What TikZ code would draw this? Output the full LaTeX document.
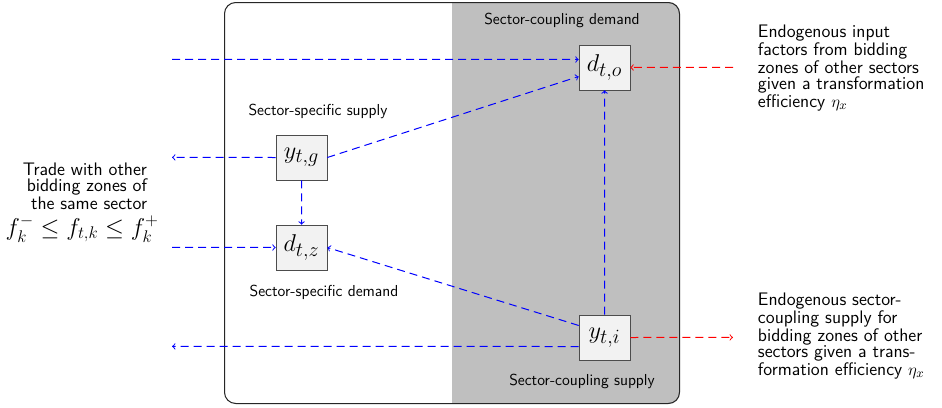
\documentclass[tikz,border=0pt]{standalone}
\usepackage{amsmath}
\begin{document}
\begin{tikzpicture}[
        x=0.025cm, y=-0.025cm,
        every node/.style={font=\sffamily\fontsize{11.3}{13}\selectfont},
        var/.style={draw=black!70, fill=gray!10, minimum width=1.275cm, minimum height=1.125cm, inner sep=1pt, font=\fontsize{19}{22}\selectfont},
        flow/.style={blue, line width=0.025cm, dash pattern=on 0.2cm off 0.125cm, ->},
        xflow/.style={red, line width=0.025cm, dash pattern=on 0.2cm off 0.125cm, ->},
        note/.style={font=\sffamily\fontsize{12.9}{11.4}\selectfont}
    ]
    \fill[white] (0,0) rectangle (942,408);
    \useasboundingbox (0,0) rectangle (942,408);

    % sector box, coupling half shaded
    \begin{scope}
        \clip[rounded corners=8] (224,2) rectangle (680,404);
        \fill[lightgray] (452,2) rectangle (680,404);
    \end{scope}
    \draw[black!85, line width=0.025cm, rounded corners=8] (224.5,2.5) rectangle (679.5,403.5);

    \node[var] (yg) at (301.5,157.5) {$y_{t,g}$};
    \node[var] (dz) at (301.5,247.5) {$d_{t,z}$};
    \node[var] (do) at (604.5,67.5) {$d_{t,o}$};
    \node[var] (yi) at (604.5,337.5) {$y_{t,i}$};

    \node (cdem) at (562,20) {Sector-coupling demand};
    \node (ssup) at (318,111) {Sector-specific supply};
    \node (sdem) at (324,292) {Sector-specific demand};
    \node (csup) at (582,381) {Sector-coupling supply};

    \node[note, align=right, anchor=east] (trade) at (152,186)
        {Trade with other\\bidding zones of\\the same sector};
    \node[anchor=east, font=\fontsize{16.5}{18}\selectfont, inner sep=0pt] (bound) at (159,229)
        {$f_k^- \leq f_{t,k} \leq f_k^+$};
    \node[note, align=left, anchor=west] (ein) at (753,68)
        {Endogenous input\\factors from bidding\\zones of other sectors\\given a transformation\\efficiency $\eta_x$};
    \node[note, align=left, anchor=west] (eout) at (753,336)
        {Endogenous sector-\\coupling supply for\\bidding zones of other\\sectors given a trans-\\formation efficiency $\eta_x$};

    % anchors on the coupling boxes
    \coordinate (doa) at ([yshift=0.2cm]do.west);
    \coordinate (dob) at ([yshift=-0.225cm]do.west);
    \coordinate (yia) at ([yshift=0.3cm]yi.west);
    \coordinate (yib) at ([yshift=-0.225cm]yi.west);
    \coordinate (dzn) at ([xshift=0.002cm]dz.north);
    \coordinate (dos) at ([xshift=0.002cm]do.south);

    % free ends (a hair off level)
    \coordinate (wl) at (172,0);
    \coordinate (er) at (733,0);
    \coordinate (t1) at ([yshift=0.002cm]doa -| wl);
    \coordinate (t2) at ([yshift=0.002cm]yg.west -| wl);
    \coordinate (t3) at ([yshift=0.002cm]dz.west -| wl);
    \coordinate (t4) at ([yshift=0.002cm]yib -| wl);
    \coordinate (r1) at ([yshift=0.002cm]do.east -| er);
    \coordinate (r2) at ([yshift=0.002cm]yi.east -| er);

    % flows
    \draw[flow] (t1) -- (doa);
    \draw[flow] (yg.west) -- (t2);
    \draw[flow] (yg.east) -- (dob);
    \draw[flow] (yg.south) -- (dzn);
    \draw[flow] (t3) -- (dz.west);
    \draw[flow] (yia) -- (dz.east);
    \draw[flow] (yib) -- (t4);
    \draw[flow] (yi.north) -- (dos);
    \draw[xflow] (r1) -- (do.east);
    \draw[xflow] (yi.east) -- (r2);
\end{tikzpicture}
\end{document}
